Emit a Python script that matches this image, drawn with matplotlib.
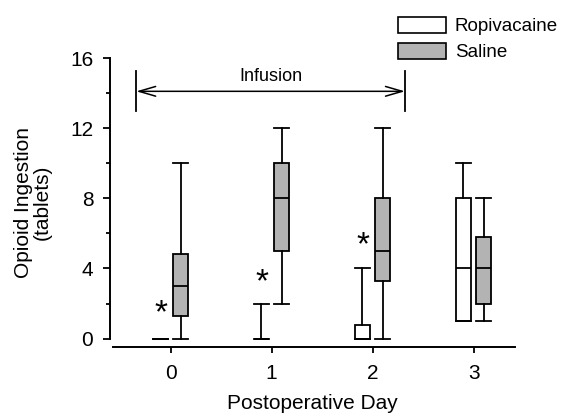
import matplotlib
matplotlib.use("Agg")
import matplotlib.pyplot as plt
from matplotlib.patches import Patch

plt.rcParams['font.family'] = ['Liberation Sans', 'DejaVu Sans']

days = [0, 1, 2, 3]
day_labels = ["0", "1", "2", "3"]

# Ropivacaine: whislo, q1, med, q3, whishi
ropi_whislo = [0, 0, 0, 1]
ropi_q1 = [0, 0, 0, 1]
ropi_med = [0, 0, 0, 4]
ropi_q3 = [0, 0, 0.8, 8]
ropi_whishi = [0, 2, 4, 10]

# Saline
sal_whislo = [0, 2, 0, 1]
sal_q1 = [1.3, 5, 3.3, 2]
sal_med = [3, 8, 5, 4]
sal_q3 = [4.8, 10, 8, 5.8]
sal_whishi = [10, 12, 12, 8]

star_days = [0, 1, 2]
star_y = [1.4, 3.2, 5.3]

infusion_start = -0.34
infusion_end = 2.32

def make_stats(lo, q1, med, q3, hi):
    return [dict(whislo=a, q1=b, med=c, q3=d, whishi=e, fliers=[])
            for a, b, c, d, e in zip(lo, q1, med, q3, hi)]

fig = plt.figure(figsize=(5.64, 4.18), dpi=100)
ax = fig.add_axes([110/564, (418-347)/418, (515-110)/564, (347-58)/418])

off = 0.1
w = 0.15
lw = 1.3
common = dict(widths=w, capwidths=w, showfliers=False, patch_artist=True,
              boxprops=dict(linewidth=lw, edgecolor='black'),
              whiskerprops=dict(linewidth=lw, color='black'),
              capprops=dict(linewidth=lw, color='black'),
              medianprops=dict(linewidth=lw, color='black'))

b1 = ax.bxp(make_stats(ropi_whislo, ropi_q1, ropi_med, ropi_q3, ropi_whishi),
            positions=[d - off for d in days], **common)
for p in b1['boxes']:
    p.set_facecolor('white')
b2 = ax.bxp(make_stats(sal_whislo, sal_q1, sal_med, sal_q3, sal_whishi),
            positions=[d + off for d in days], **common)
for p in b2['boxes']:
    p.set_facecolor('#b3b3b3')

for d, y in zip(star_days, star_y):
    ax.text(d - 0.1, y, '*', ha='center', va='center', fontsize=24)

# Infusion arrow
ax.annotate('', xy=(infusion_start, 14.1), xytext=(infusion_end, 14.1),
            arrowprops=dict(arrowstyle='<->,head_length=1.2,head_width=0.35',
                            lw=1.1, color='black', shrinkA=0, shrinkB=0))
ax.plot([infusion_start, infusion_start], [12.97, 15.25], color='black', lw=1.3)
ax.plot([infusion_end, infusion_end], [12.97, 15.25], color='black', lw=1.3)
ax.text((infusion_start + infusion_end) / 2, 14.95, 'Infusion', ha='center',
        va='center', fontsize=13)

ax.set_xlim(-0.6, 3.41)
ax.set_ylim(-0.48, 16)
ax.set_xticks(days)
ax.set_xticklabels(day_labels, fontsize=15)
ax.set_yticks([0, 4, 8, 12, 16])
ax.set_yticks([2, 6, 10, 14], minor=True)
ax.tick_params(axis='y', labelsize=15, width=1.3, length=5, direction='out', pad=7)
ax.tick_params(axis='y', which='minor', width=1.3, length=3)
ax.tick_params(axis='x', width=1.3, length=4, direction='out', pad=8)
ax.spines['top'].set_visible(False)
ax.spines['right'].set_visible(False)
ax.spines['left'].set_bounds(0, 16)
ax.spines['bottom'].set_bounds(-0.57, 3.41)
ax.spines['left'].set_linewidth(1.4)
ax.spines['bottom'].set_linewidth(1.4)

ax.set_xlabel('Postoperative Day', fontsize=15, labelpad=8)
ax.set_ylabel('Opioid Ingestion\n(tablets)', fontsize=15, labelpad=13, linespacing=1.0)

handles = [Patch(facecolor='white', edgecolor='black', linewidth=1.2, label='Ropivacaine'),
           Patch(facecolor='#b3b3b3', edgecolor='black', linewidth=1.2, label='Saline')]
fig.legend(handles=handles, loc='upper left', bbox_to_anchor=(390/564, 1 - 9/418),
           frameon=False, fontsize=13.5, handlelength=2.6, handleheight=0.95,
           handletextpad=0.45, labelspacing=0.4, borderaxespad=0)

fig.savefig('out.png', dpi=100)
